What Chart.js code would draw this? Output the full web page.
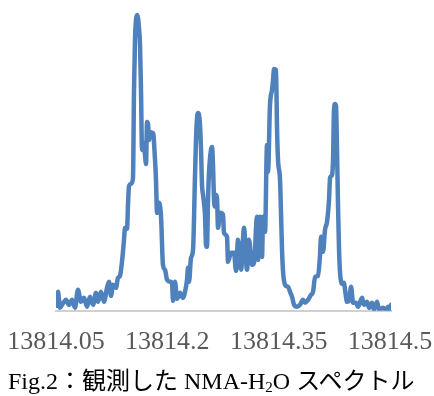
<!DOCTYPE html>
<html>
<head>
<meta charset="utf-8">
<script src="https://cdn.jsdelivr.net/npm/chart.js@4/dist/chart.umd.min.js"></script>
<style>
  html, body { margin: 0; padding: 0; background: #ffffff; }
  #wrap { position: relative; width: 434px; height: 396px; }
  #c { position: absolute; left: 0; top: 0; }
  #caption {
    position: absolute; left: 8px; top: 366px; height: 30px; line-height: 30px;
    font-family: "Liberation Serif", "Noto Sans CJK JP", serif; font-size: 24px; color: #000;
    white-space: nowrap;
  }
  #caption sub { font-size: 15px; vertical-align: -3px; line-height: 0; }
</style>
</head>
<body>
<div id="wrap">
  <canvas id="c" width="434" height="396"></canvas>
  <div id="caption">Fig.2：観測した NMA-H<sub>2</sub>O スペクトル</div>
</div>
<script>
// Frequency (x) of each sample
const frequency = [
  13814.0513, 13814.0527, 13814.0554, 13814.0581, 13814.0608, 13814.0635, 13814.0675, 13814.0716, 13814.0756, 13814.0796,
  13814.0837, 13814.0877, 13814.0918, 13814.0958, 13814.0999, 13814.1039, 13814.1066, 13814.1106, 13814.1147, 13814.1187,
  13814.1214, 13814.1241, 13814.1268, 13814.1308, 13814.1335, 13814.1362, 13814.1389, 13814.1416, 13814.1430, 13814.1457,
  13814.1470, 13814.1484, 13814.1510, 13814.1537, 13814.1551, 13814.1564, 13814.1578, 13814.1591, 13814.1605, 13814.1618,
  13814.1632, 13814.1645, 13814.1659, 13814.1672, 13814.1686, 13814.1699, 13814.1713, 13814.1726, 13814.1740, 13814.1753,
  13814.1766, 13814.1793, 13814.1807, 13814.1834, 13814.1847, 13814.1861, 13814.1888, 13814.1915, 13814.1941, 13814.1969,
  13814.1996, 13814.2036, 13814.2063, 13814.2076, 13814.2103, 13814.2130, 13814.2171, 13814.2211, 13814.2238, 13814.2265,
  13814.2278, 13814.2292, 13814.2319, 13814.2346, 13814.2373, 13814.2386, 13814.2400, 13814.2413, 13814.2427, 13814.2440,
  13814.2454, 13814.2467, 13814.2481, 13814.2507, 13814.2521, 13814.2534, 13814.2548, 13814.2561, 13814.2588, 13814.2602,
  13814.2615, 13814.2629, 13814.2642, 13814.2656, 13814.2669, 13814.2683, 13814.2710, 13814.2750, 13814.2763, 13814.2804,
  13814.2817, 13814.2858, 13814.2898, 13814.2925, 13814.2952, 13814.2993, 13814.3033, 13814.3073, 13814.3100, 13814.3141,
  13814.3168, 13814.3208, 13814.3222, 13814.3249, 13814.3276, 13814.3289, 13814.3316, 13814.3343, 13814.3356, 13814.3383,
  13814.3410, 13814.3424, 13814.3437, 13814.3464, 13814.3478, 13814.3491, 13814.3518, 13814.3532, 13814.3545, 13814.3559,
  13814.3586, 13814.3626, 13814.3653, 13814.3680, 13814.3707, 13814.3747, 13814.3787, 13814.3828, 13814.3855, 13814.3895,
  13814.3936, 13814.3963, 13814.3990, 13814.4030, 13814.4057, 13814.4070, 13814.4097, 13814.4124, 13814.4151, 13814.4178,
  13814.4192, 13814.4219, 13814.4232, 13814.4245, 13814.4259, 13814.4272, 13814.4286, 13814.4299, 13814.4313, 13814.4326,
  13814.4353, 13814.4380, 13814.4394, 13814.4421, 13814.4448, 13814.4475, 13814.4502, 13814.4542, 13814.4569, 13814.4623,
  13814.4650, 13814.4690, 13814.4717, 13814.4757, 13814.4784, 13814.4825, 13814.4852, 13814.4906, 13814.4946, 13814.4973,
  13814.5000, 13814.5013
];
// Signal intensity (arbitrary units) of each sample
const intensity = [
  5, 19, 3, 6, 9, 11, 6, 11, 3, 21,
  9, 13, 4, 14, 6, 18, 9, 19, 9, 23,
  29, 15, 26, 23, 33, 35, 49, 71, 83, 82,
  106, 125, 127, 133, 221, 271, 291, 296, 293, 283,
  266, 221, 161, 164, 168, 156, 147, 189, 187, 171,
  179, 178, 178, 151, 131, 98, 108, 94, 46, 41,
  31, 29, 28, 10, 29, 12, 18, 13, 19, 31,
  43, 29, 53, 61, 136, 171, 193, 198, 196, 186,
  161, 126, 116, 96, 66, 64, 111, 138, 161, 164,
  146, 111, 104, 116, 113, 83, 98, 96, 78, 74,
  49, 58, 58, 40, 71, 41, 83, 41, 71, 46,
  48, 94, 51, 94, 54, 94, 79, 166, 139, 206,
  221, 231, 242, 241, 181, 151, 131, 96, 61, 39,
  26, 24, 19, 14, 6, 4, 6, 11, 8, 11,
  16, 19, 34, 35, 56, 74, 59, 81, 89, 111,
  133, 136, 151, 201, 207, 205, 161, 106, 61, 39,
  27, 28, 21, 9, 10, 24, 8, 8, 4, 13,
  6, 9, 3, 8, 1, 9, 1, 3, 1, 4,
  1, 6
];
// Tick positions and labels of the frequency axis
const tickValues = [13814.05, 13814.2, 13814.35, 13814.5];
const tickLabels = ["13814.05", "13814.2", "13814.35", "13814.5"];

const points = frequency.map((f, i) => ({ x: f, y: intensity[i] }));

new Chart(document.getElementById('c'), {
  type: 'line',
  data: {
    datasets: [{
      data: points,
      borderColor: '#4f81bd',
      borderWidth: 4.5,
      pointRadius: 0,
      cubicInterpolationMode: 'monotone',
      borderJoinStyle: 'round',
      borderCapStyle: 'round',
      fill: false
    }]
  },
  options: {
    responsive: false,
    animation: false,
    devicePixelRatio: 1,
    layout: { padding: { left: 56, right: 43, top: 11, bottom: 22 } },
    plugins: { legend: { display: false }, tooltip: { enabled: false }, title: { display: false } },
    scales: {
      x: {
        type: 'linear',
        min: 13814.05,
        max: 13814.5013,
        afterBuildTicks: (scale) => { scale.ticks = tickValues.map(v => ({ value: v })); },
        afterFit: (scale) => { scale.paddingLeft = 0; scale.paddingRight = 0; },
        ticks: {
          autoSkip: false,
          maxRotation: 0,
          padding: 16,
          color: '#595959',
          font: { family: '"Liberation Serif", serif', size: 26 },
          callback: (v, i) => tickLabels[i]
        },
        grid: { display: false, drawTicks: false },
        border: { display: true, color: '#d0d0d0', width: 2 }
      },
      y: {
        display: false,
        min: 0,
        max: 300
      }
    }
  }
});
</script>
</body>
</html>
